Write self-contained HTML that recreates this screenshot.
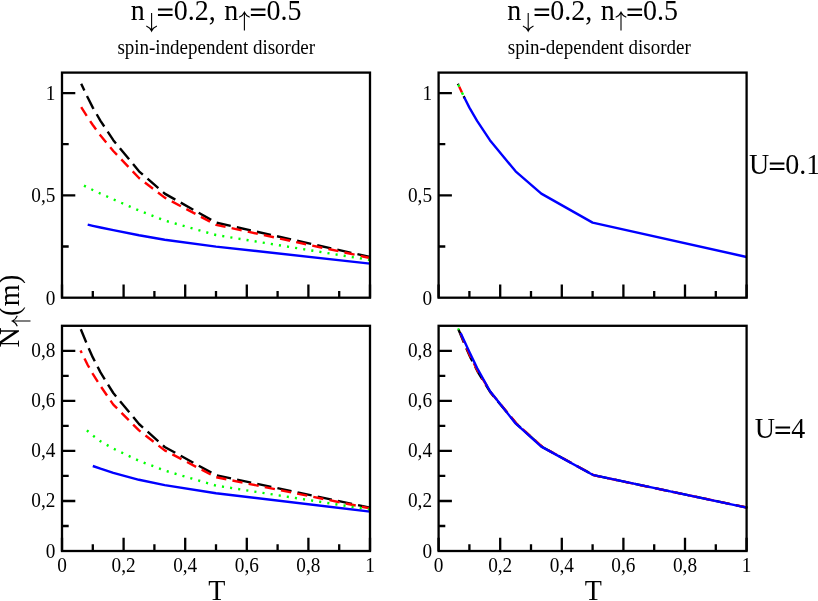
<!DOCTYPE html>
<html><head><meta charset="utf-8"><title>chart</title>
<style>html,body{margin:0;padding:0;background:#fff}svg{display:block}text{font-family:"Liberation Serif",serif;fill:#000}text{filter:grayscale(1)}</style>
</head><body>
<svg width="818" height="601" viewBox="0 0 818 601">
<rect width="818" height="601" fill="#fff"/>
<g id="tl">
<polyline points="81.2,83.8 87.6,97.3 92.8,107.6 100.5,120.8 113.3,140.2 139.0,171.3 164.7,193.6 216.0,222.6 370.0,257.0" fill="none" stroke="#000" stroke-width="2.4" stroke-linejoin="round" stroke-dasharray="14.4 6.2" stroke-dashoffset="7.0"/>
<polyline points="81.2,107.2 87.7,117.4 92.8,125.0 100.5,135.5 113.3,151.0 139.0,178.0 164.7,197.6 216.0,224.8 370.0,258.0" fill="none" stroke="#ff0000" stroke-width="2.4" stroke-linejoin="round" stroke-dasharray="10.3 6.2"/>
<polyline points="84.0,185.6 87.7,187.5 92.8,190.0 100.5,193.6 113.3,199.3 139.0,210.5 164.7,220.6 216.0,235.0 370.0,260.0" fill="none" stroke="#00ff00" stroke-width="2.4" stroke-linejoin="round" stroke-dasharray="2.1 6.1"/>
<polyline points="87.7,224.6 92.8,225.8 100.5,227.5 113.3,230.2 139.0,235.3 164.7,239.7 216.0,246.6 370.0,263.6" fill="none" stroke="#0000ff" stroke-width="2.4" stroke-linejoin="round"/>
</g>
<g id="bl">
<polyline points="80.8,329.2 87.7,346.0 92.8,357.4 100.5,372.4 113.3,393.0 139.0,424.0 164.7,447.0 216.0,475.2 370.0,507.6" fill="none" stroke="#000" stroke-width="2.4" stroke-linejoin="round" stroke-dasharray="14.4 6.2"/>
<polyline points="80.5,350.5 87.7,365.0 92.8,373.8 100.5,386.0 113.3,404.6 139.0,430.4 164.7,450.4 216.0,477.2 370.0,508.4" fill="none" stroke="#ff0000" stroke-width="2.4" stroke-linejoin="round" stroke-dasharray="10.3 6.2" stroke-dashoffset="7.5"/>
<polyline points="86.9,430.4 92.8,435.5 100.5,441.3 113.3,448.6 139.0,460.8 164.7,470.6 216.0,485.6 370.0,509.6" fill="none" stroke="#00ff00" stroke-width="2.4" stroke-linejoin="round" stroke-dasharray="2.1 6.1"/>
<polyline points="92.8,466.0 100.5,468.7 113.3,472.8 139.0,479.8 164.7,485.1 216.0,493.3 370.0,511.6" fill="none" stroke="#0000ff" stroke-width="2.4" stroke-linejoin="round"/>
</g>
<g id="tr">
<polyline points="457.9,83.8 464.2,97.3 464.7,98.2" fill="none" stroke="#000" stroke-width="2.4" stroke-linejoin="round" stroke-dasharray="1 12.6 3 6"/>
<line x1="458.28" y1="84.70" x2="459.25" y2="86.79" stroke="#00ff00" stroke-width="2.4"/>
<line x1="459.25" y1="86.79" x2="461.94" y2="92.49" stroke="#ff0000" stroke-width="2.4"/>
<line x1="461.94" y1="92.49" x2="463.04" y2="94.84" stroke="#00ff00" stroke-width="2.4"/>
<polyline points="464.2,97.3 469.4,107.6 477.1,120.8 489.9,140.2 515.6,171.3 541.3,193.6 592.6,222.6 746.6,257.0" fill="none" stroke="#0000ff" stroke-width="2.4" stroke-linejoin="round"/>
</g>
<g id="br">
<polyline points="458.4,329.2 465.3,346.0 470.4,357.4 478.1,372.4 490.9,393.0 516.6,424.0 542.3,447.0 593.6,475.2 747.6,507.6" fill="none" stroke="#000" stroke-width="2.4" stroke-linejoin="round" stroke-dasharray="14.4 6.2"/>
<polyline points="458.9,329.4 465.8,346.2 470.9,357.6 478.6,372.6 491.4,393.2 517.1,424.2 542.8,447.2 594.1,475.4 748.1,507.8" fill="none" stroke="#ff0000" stroke-width="2.4" stroke-linejoin="round" stroke-dasharray="10.3 6.2" stroke-dashoffset="-4.0"/>
<line x1="458.1" y1="328.4" x2="458.9" y2="330.0" stroke="#00ff00" stroke-width="2"/>
<polyline points="460.6,333.0 464.3,341.0 469.4,352.0 477.1,368.0 489.9,391.0 515.6,423.4 541.3,446.6 592.6,474.8 746.6,507.6" fill="none" stroke="#0000ff" stroke-width="2.4" stroke-linejoin="round"/>
</g>
<g stroke="#000" stroke-width="2.3" fill="none" stroke-linecap="butt">
<rect x="62.0" y="72.6" width="308.0" height="225.1"/>
<path d="M62.0 195.4h13.3M62.0 93.1h13.3M62.0 246.5h6.7M62.0 144.2h6.7M92.8 297.7v-6.7M123.6 297.7v-13.3M154.4 297.7v-6.7M185.2 297.7v-13.3M216.0 297.7v-6.7M246.8 297.7v-13.3M277.6 297.7v-6.7M308.4 297.7v-13.3M339.2 297.7v-6.7M370.0 297.7v-13.3M62.0 297.7v-13.3"/>
<rect x="438.6" y="72.6" width="308.0" height="225.1"/>
<path d="M438.6 195.4h13.3M438.6 93.1h13.3M438.6 246.5h6.7M438.6 144.2h6.7M469.4 297.7v-6.7M500.2 297.7v-13.3M531.0 297.7v-6.7M561.8 297.7v-13.3M592.6 297.7v-6.7M623.4 297.7v-13.3M654.2 297.7v-6.7M685.0 297.7v-13.3M715.8 297.7v-6.7M746.6 297.7v-13.3M438.6 297.7v-13.3"/>
<rect x="62.0" y="325.8" width="308.0" height="225.2"/>
<path d="M62.0 501.0h13.3M62.0 450.9h13.3M62.0 400.9h13.3M62.0 350.8h13.3M62.0 526.0h6.7M62.0 475.9h6.7M62.0 425.9h6.7M62.0 375.8h6.7M92.8 551.0v-6.7M123.6 551.0v-13.3M154.4 551.0v-6.7M185.2 551.0v-13.3M216.0 551.0v-6.7M246.8 551.0v-13.3M277.6 551.0v-6.7M308.4 551.0v-13.3M339.2 551.0v-6.7M370.0 551.0v-13.3M62.0 551.0v-13.3"/>
<rect x="438.6" y="325.8" width="308.0" height="225.2"/>
<path d="M438.6 501.0h13.3M438.6 450.9h13.3M438.6 400.9h13.3M438.6 350.8h13.3M438.6 526.0h6.7M438.6 475.9h6.7M438.6 425.9h6.7M438.6 375.8h6.7M469.4 551.0v-6.7M500.2 551.0v-13.3M531.0 551.0v-6.7M561.8 551.0v-13.3M592.6 551.0v-6.7M623.4 551.0v-13.3M654.2 551.0v-6.7M685.0 551.0v-13.3M715.8 551.0v-6.7M746.6 551.0v-13.3M438.6 551.0v-13.3"/>
</g>
<g font-size="19.3px">
<text transform="translate(55.50 304.70) scale(1 1.080)" text-anchor="end">0</text>
<text transform="translate(55.50 201.68) scale(1 1.080)" text-anchor="end">0,5</text>
<text transform="translate(55.50 100.06) scale(1 1.080)" text-anchor="end">1</text>
<text transform="translate(432.10 304.70) scale(1 1.080)" text-anchor="end">0</text>
<text transform="translate(432.10 201.68) scale(1 1.080)" text-anchor="end">0,5</text>
<text transform="translate(432.10 100.06) scale(1 1.080)" text-anchor="end">1</text>
<text transform="translate(55.50 558.00) scale(1 1.080)" text-anchor="end">0</text>
<text transform="translate(55.50 507.26) scale(1 1.080)" text-anchor="end">0,2</text>
<text transform="translate(55.50 457.21) scale(1 1.080)" text-anchor="end">0,4</text>
<text transform="translate(55.50 407.17) scale(1 1.080)" text-anchor="end">0,6</text>
<text transform="translate(55.50 357.12) scale(1 1.080)" text-anchor="end">0,8</text>
<text transform="translate(62.00 571.60) scale(1 1.080)" text-anchor="middle">0</text>
<text transform="translate(123.60 571.60) scale(1 1.080)" text-anchor="middle">0,2</text>
<text transform="translate(185.20 571.60) scale(1 1.080)" text-anchor="middle">0,4</text>
<text transform="translate(246.80 571.60) scale(1 1.080)" text-anchor="middle">0,6</text>
<text transform="translate(308.40 571.60) scale(1 1.080)" text-anchor="middle">0,8</text>
<text transform="translate(370.00 571.60) scale(1 1.080)" text-anchor="middle">1</text>
<text transform="translate(432.10 558.00) scale(1 1.080)" text-anchor="end">0</text>
<text transform="translate(432.10 507.26) scale(1 1.080)" text-anchor="end">0,2</text>
<text transform="translate(432.10 457.21) scale(1 1.080)" text-anchor="end">0,4</text>
<text transform="translate(432.10 407.17) scale(1 1.080)" text-anchor="end">0,6</text>
<text transform="translate(432.10 357.12) scale(1 1.080)" text-anchor="end">0,8</text>
<text transform="translate(438.60 571.60) scale(1 1.080)" text-anchor="middle">0</text>
<text transform="translate(500.20 571.60) scale(1 1.080)" text-anchor="middle">0,2</text>
<text transform="translate(561.80 571.60) scale(1 1.080)" text-anchor="middle">0,4</text>
<text transform="translate(623.40 571.60) scale(1 1.080)" text-anchor="middle">0,6</text>
<text transform="translate(685.00 571.60) scale(1 1.080)" text-anchor="middle">0,8</text>
<text transform="translate(746.60 571.60) scale(1 1.080)" text-anchor="middle">1</text>
</g>
<g font-size="28px">
<text transform="translate(130.65 20.00) scale(1 1.080)">n</text>
<path d="M151.60 12.90V30.70 M146.30 26.10Q150.20 27.70 151.60 31.10Q153.00 27.70 156.90 26.10" fill="none" stroke="#000" stroke-width="1.10"/>
<path d="M157.96 9.45H172.56M157.96 15.05H172.56" stroke="#000" stroke-width="1.9" fill="none"/>
<text transform="translate(173.75 20.00) scale(1 1.080)">0.2,</text>
<text transform="translate(224.15 20.00) scale(1 1.080)">n</text>
<path d="M244.40 30.60V12.70 M239.10 17.30Q243.00 15.70 244.40 12.30Q245.80 15.70 249.70 17.30" fill="none" stroke="#000" stroke-width="1.10"/>
<path d="M250.86 9.45H265.46M250.86 15.05H265.46" stroke="#000" stroke-width="1.9" fill="none"/>
<text transform="translate(266.50 20.00) scale(1 1.080)">0.5</text>
</g>
<g font-size="28px">
<text transform="translate(507.25 20.00) scale(1 1.080)">n</text>
<path d="M528.20 12.90V30.70 M522.90 26.10Q526.80 27.70 528.20 31.10Q529.60 27.70 533.50 26.10" fill="none" stroke="#000" stroke-width="1.10"/>
<path d="M534.56 9.45H549.16M534.56 15.05H549.16" stroke="#000" stroke-width="1.9" fill="none"/>
<text transform="translate(550.35 20.00) scale(1 1.080)">0.2,</text>
<text transform="translate(600.75 20.00) scale(1 1.080)">n</text>
<path d="M621.00 30.60V12.70 M615.70 17.30Q619.60 15.70 621.00 12.30Q622.40 15.70 626.30 17.30" fill="none" stroke="#000" stroke-width="1.10"/>
<path d="M627.46 9.45H642.06M627.46 15.05H642.06" stroke="#000" stroke-width="1.9" fill="none"/>
<text transform="translate(643.10 20.00) scale(1 1.080)">0.5</text>
</g>
<text transform="translate(216.25 54.40) scale(1 1.050)" font-size="19px" text-anchor="middle">spin-independent disorder</text>
<text transform="translate(599.30 54.40) scale(1 1.050)" font-size="19px" text-anchor="middle">spin-dependent disorder</text>
<text transform="translate(749.10 174.00) scale(1 1.080)" font-size="28px">U</text>
<path d="M769.80 163.45H784.40M769.80 169.05H784.40" stroke="#000" stroke-width="1.9" fill="none"/>
<text transform="translate(785.30 174.00) scale(1 1.080)" font-size="28px">0.1</text>
<text transform="translate(754.80 438.00) scale(1 1.080)" font-size="28px">U</text>
<path d="M775.50 427.45H790.10M775.50 433.05H790.10" stroke="#000" stroke-width="1.9" fill="none"/>
<text transform="translate(791.20 438.00) scale(1 1.080)" font-size="28px">4</text>
<text transform="translate(216.70 600.20) scale(1 1.080)" font-size="28px" text-anchor="middle">T</text>
<text transform="translate(593.30 600.20) scale(1 1.080)" font-size="28px" text-anchor="middle">T</text>
<g transform="translate(19.3 347.6) rotate(-90)" font-size="28px" id="yl">
<text transform="translate(0.00 0.00) scale(1 1.080)">N</text>
<path d="M26.60 11.20V-6.60 M21.30 -2.00Q25.20 -3.60 26.60 -7.00Q28.00 -3.60 31.90 -2.00" fill="none" stroke="#000" stroke-width="1.10"/>
<text transform="translate(31.60 0.00) scale(1 1.080)" letter-spacing="0.5">(m)</text>
</g>
</svg></body></html>
